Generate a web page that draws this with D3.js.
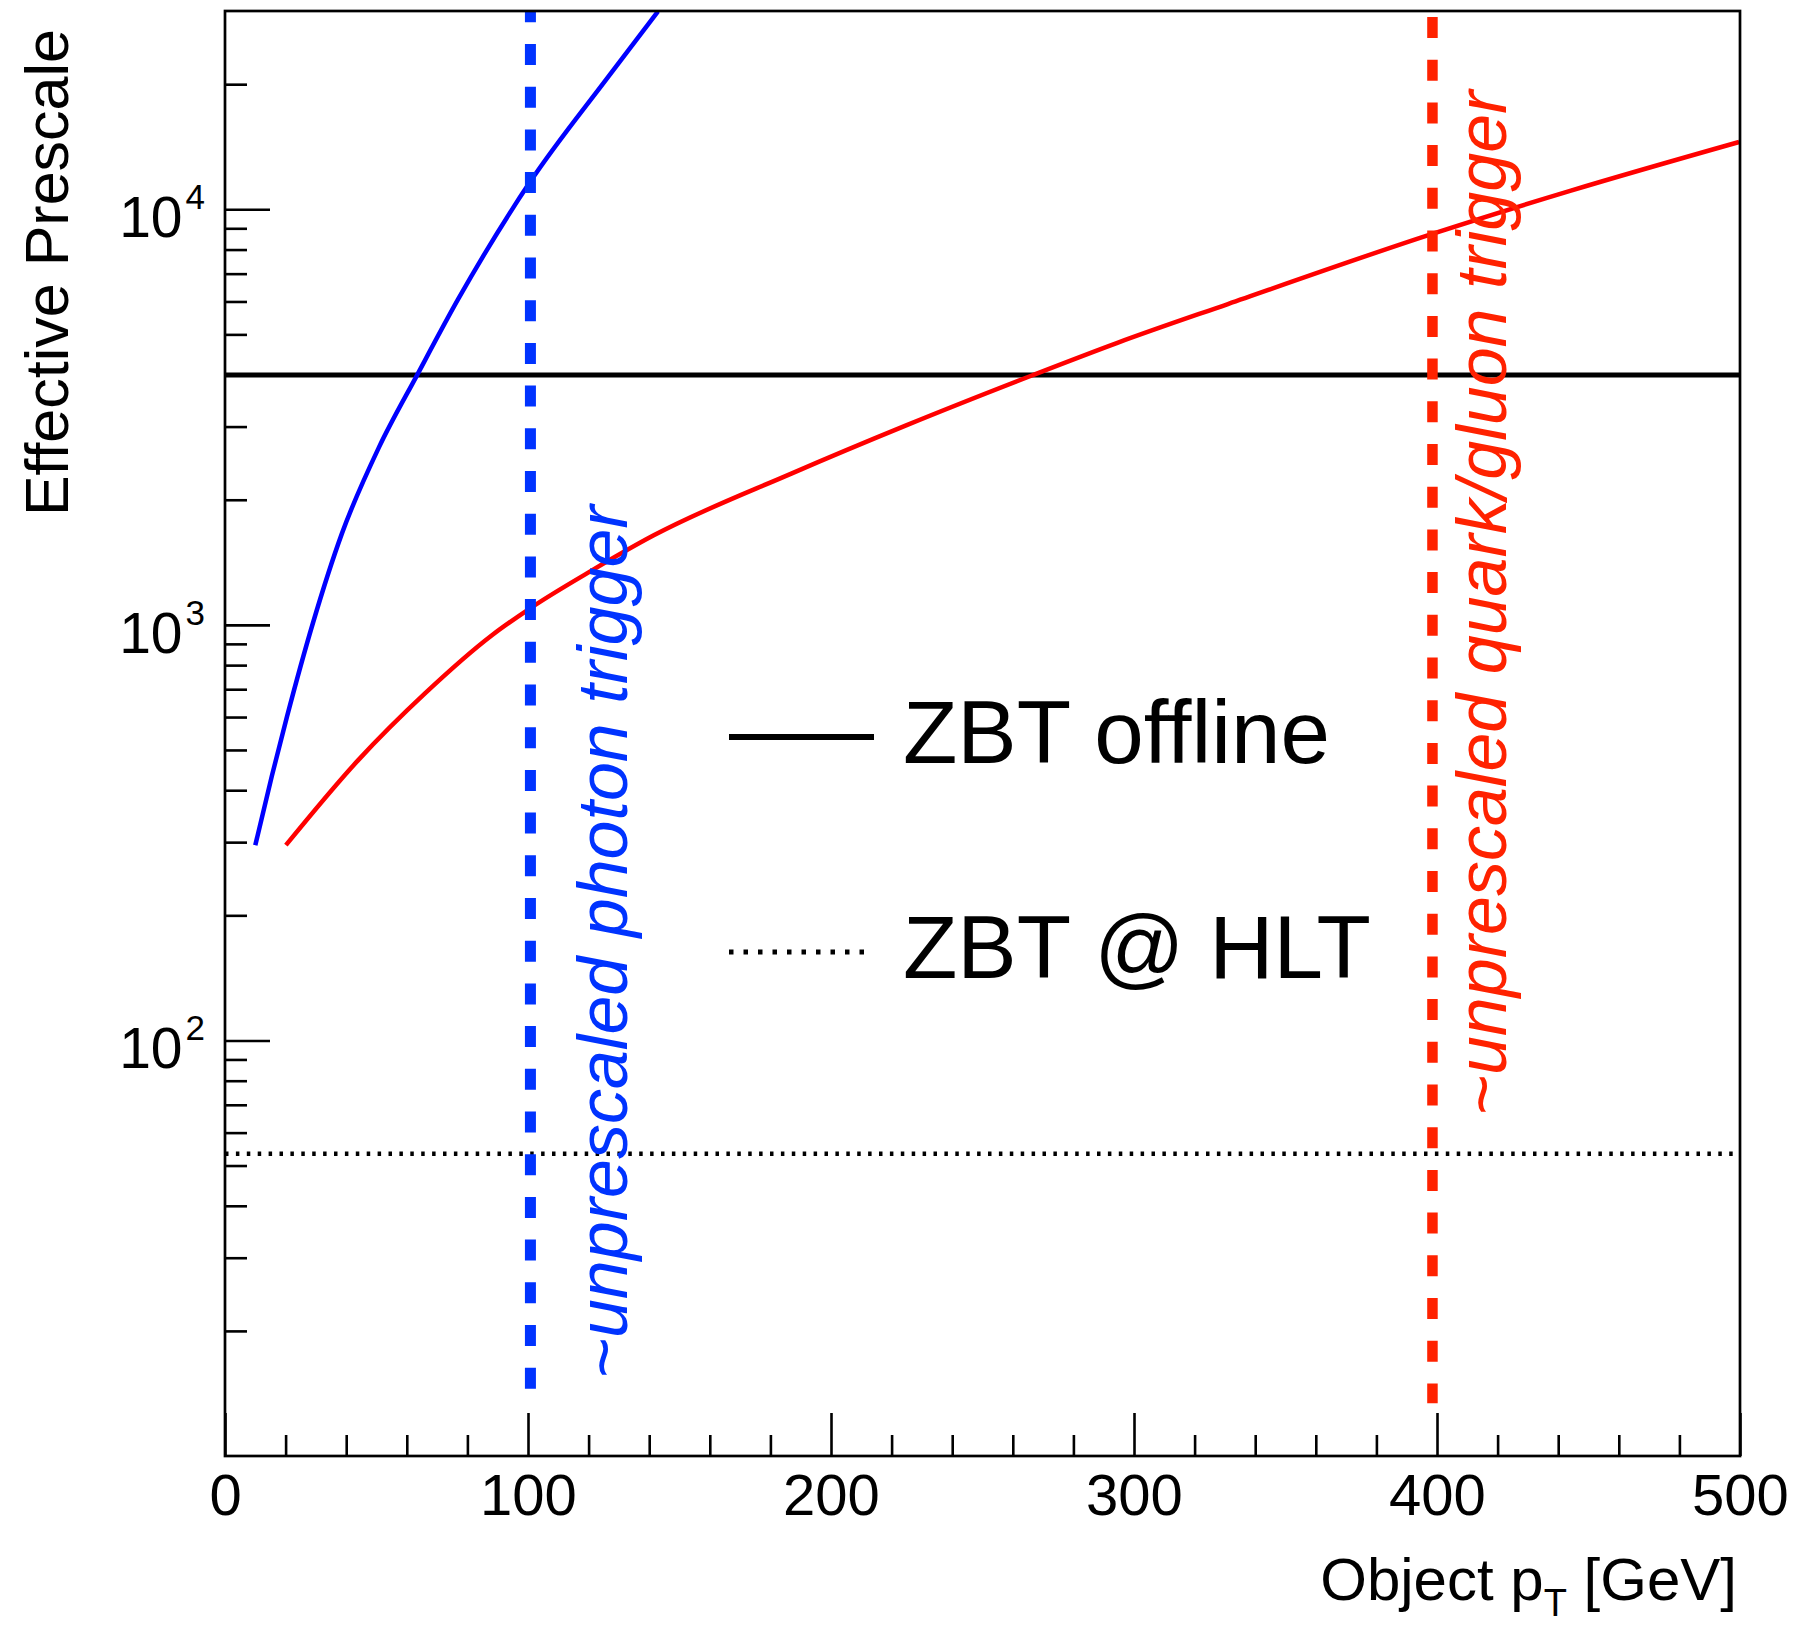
<!DOCTYPE html>
<html>
<head>
<meta charset="utf-8">
<script src="https://cdn.jsdelivr.net/npm/d3@7"></script>
<style>
  html, body { margin: 0; padding: 0; background: #fff; }
  svg text { font-family: "Liberation Sans", Arial, Helvetica, sans-serif; }
</style>
</head>
<body>
<div id="chart"></div>
<script>
// effective prescale vs object pT

var photonPt = [10, 15.5, 20.5, 29, 38.6, 50.8, 63.4, 76.9, 100.7, 126.4, 142.9]
var photonPrescale = [295, 434, 603, 1009, 1660, 2673, 3990, 6067, 11640, 20800, 29950]

var jetPt = [20.1, 43.9, 66, 88.1, 100.7, 121.1, 141.5, 186.9, 224.8, 266.5, 294.3, 331, 398.7, 444.2, 499.7]
var jetPrescale = [295, 472, 684, 944, 1096, 1352, 1642, 2312, 3020, 3987, 4764, 5916, 8739, 11090, 14520]

var zbtOffline = 3990
var zbtHLT = 53.4

var photonTriggerPt = 100.8
var jetTriggerPt = 398.5
var triggerLineBottom = {photon: 14.5, jet: 13.4}

var xMajor = [0, 100, 200, 300, 400, 500]
var xMinorStep = 20
var yDecades = [2, 3, 4]

var legendItems = ["ZBT offline", "ZBT @ HLT"]

;(function () {

  var W = 1817, H = 1625
  var frame = {left: 225, top: 11, right: 1740, bottom: 1456}

  var svg = d3.select('#chart').append('svg')
    .attr('width', W)
    .attr('height', H)

  svg.append('rect').attr('width', W).attr('height', H).attr('fill', '#fff')

  // Scales

  var x = d3.scaleLinear()
    .domain([0, 500])
    .range([frame.left, frame.right])

  var y = d3.scaleLog()
    .domain([10, 30000])
    .range([frame.bottom, frame.top])

  // Axes (ticks point inward, ROOT style)

  var xMinor = d3.range(0, 500 + 1e-9, xMinorStep).filter(function (v) { return v % 100 !== 0 })

  svg.append('g')
    .attr('transform', 'translate(0,' + frame.bottom + ')')
    .call(d3.axisBottom(x).tickValues(xMinor).tickSize(-21).tickFormat(''))
    .call(function (g) { g.select('.domain').remove() })
    .selectAll('line').attr('stroke-width', 2.6)

  var xAx = svg.append('g')
    .attr('transform', 'translate(0,' + frame.bottom + ')')
    .call(d3.axisBottom(x).tickValues(xMajor).tickSize(-43).tickPadding(18).tickFormat(d3.format('d')))
    .call(function (g) { g.select('.domain').remove() })
  xAx.selectAll('line').attr('stroke-width', 2.6)
  xAx.selectAll('text')
    .attr('font-size', 58)
    .attr('font-family', '"Liberation Sans", Arial, Helvetica, sans-serif')
    .attr('fill', '#000')

  var yMinor = []
  yDecades.concat([1]).forEach(function (p) {
    for (var m = 2; m <= 9; m++) {
      var v = m * Math.pow(10, p)
      if (v > 10 && v < 30000) yMinor.push(v)
    }
  })
  var yMajor = yDecades.map(function (p) { return Math.pow(10, p) })

  svg.append('g')
    .attr('transform', 'translate(' + frame.left + ',0)')
    .call(d3.axisLeft(y).tickValues(yMinor).tickSize(-22).tickFormat(''))
    .call(function (g) { g.select('.domain').remove() })
    .selectAll('line').attr('stroke-width', 2.6)

  svg.append('g')
    .attr('transform', 'translate(' + frame.left + ',0)')
    .call(d3.axisLeft(y).tickValues(yMajor).tickSize(-45).tickFormat(''))
    .call(function (g) { g.select('.domain').remove() })
    .selectAll('line').attr('stroke-width', 2.6)

  // y labels as 10^n
  var yLab = svg.selectAll('.ylab')
    .data(yDecades)
    .enter().append('text')
    .attr('class', 'ylab')
    .attr('x', frame.left - 20)
    .attr('y', function (d) { return y(Math.pow(10, d)) + 28 })
    .attr('text-anchor', 'end')
    .attr('font-size', 57)
    .attr('fill', '#000')
  yLab.append('tspan').text('10')
  yLab.append('tspan')
    .attr('font-size', 35)
    .attr('dy', -28)
    .attr('dx', 3)
    .text(function (d) { return d })

  // Horizontal reference lines

  svg.append('line')
    .attr('x1', x(0)).attr('x2', x(500))
    .attr('y1', y(zbtOffline)).attr('y2', y(zbtOffline))
    .attr('stroke', '#000')
    .attr('stroke-width', 5)

  svg.append('line')
    .attr('x1', x(0)).attr('x2', x(500))
    .attr('y1', y(zbtHLT)).attr('y2', y(zbtHLT))
    .attr('stroke', '#000')
    .attr('stroke-width', 4.5)
    .attr('stroke-dasharray', '3.5,7.4')

  // Curves

  var line = d3.line()
    .x(function (d) { return x(d[0]) })
    .y(function (d) { return y(d[1]) })
    .curve(d3.curveMonotoneX)

  var photonData = d3.zip(photonPt, photonPrescale)
  var jetData = d3.zip(jetPt, jetPrescale)

  svg.append('path')
    .datum(photonData)
    .attr('d', line)
    .attr('fill', 'none')
    .attr('stroke', '#0000ff')
    .attr('stroke-width', 4.5)

  svg.append('path')
    .datum(jetData)
    .attr('d', line)
    .attr('fill', 'none')
    .attr('stroke', '#ff0000')
    .attr('stroke-width', 4.5)

  // Trigger threshold lines

  svg.append('line')
    .attr('x1', x(photonTriggerPt)).attr('x2', x(photonTriggerPt))
    .attr('y1', y(30000)).attr('y2', y(triggerLineBottom.photon))
    .attr('stroke', '#0033ff')
    .attr('stroke-width', 11)
    .attr('stroke-dasharray', '21,21.7')
    .attr('stroke-dashoffset', 9.7)

  svg.append('line')
    .attr('x1', x(jetTriggerPt)).attr('x2', x(jetTriggerPt))
    .attr('y1', y(30000)).attr('y2', y(triggerLineBottom.jet))
    .attr('stroke', '#ff2200')
    .attr('stroke-width', 10.5)
    .attr('stroke-dasharray', '21,21.7')
    .attr('stroke-dashoffset', 36.7)

  // Rotated annotations

  svg.append('text')
    .attr('transform', 'translate(627,1379) rotate(-90)')
    .attr('font-size', 70)
    .attr('font-style', 'italic')
    .attr('fill', '#0033ff')
    .text('~unprescaled photon trigger')

  svg.append('text')
    .attr('transform', 'translate(1506,1116) rotate(-90)')
    .attr('font-size', 70)
    .attr('font-style', 'italic')
    .attr('fill', '#ff2200')
    .text('~unprescaled quark/gluon trigger')

  // Frame

  svg.append('rect')
    .attr('x', frame.left).attr('y', frame.top)
    .attr('width', frame.right - frame.left)
    .attr('height', frame.bottom - frame.top)
    .attr('fill', 'none')
    .attr('stroke', '#000')
    .attr('stroke-width', 2.7)

  // Legend

  var leg = svg.append('g')
  var legY = [737, 952]
  leg.append('line')
    .attr('x1', 729).attr('x2', 874)
    .attr('y1', legY[0]).attr('y2', legY[0])
    .attr('stroke', '#000').attr('stroke-width', 6)
  leg.append('line')
    .attr('x1', 729).attr('x2', 868)
    .attr('y1', legY[1]).attr('y2', legY[1])
    .attr('stroke', '#000').attr('stroke-width', 5)
    .attr('stroke-dasharray', '4.5,10')
  leg.selectAll('text')
    .data(legendItems)
    .enter().append('text')
    .attr('x', 903)
    .attr('y', function (d, i) { return legY[i] + 26 })
    .attr('font-size', 89)
    .attr('fill', '#000')
    .text(function (d) { return d })

  // Axis titles

  var xt = svg.append('text')
    .attr('x', frame.right - 3)
    .attr('y', 1600)
    .attr('text-anchor', 'end')
    .attr('font-size', 60)
    .attr('fill', '#000')
  xt.append('tspan').text('Object p')
  xt.append('tspan').attr('font-size', 38).attr('dy', 16).text('T')
  xt.append('tspan').attr('dy', -16).text(' [GeV]')

  svg.append('text')
    .attr('transform', 'translate(68,29) rotate(-90)')
    .attr('text-anchor', 'end')
    .attr('font-size', 61)
    .attr('fill', '#000')
    .text('Effective Prescale')

})()
</script>
</body>
</html>
